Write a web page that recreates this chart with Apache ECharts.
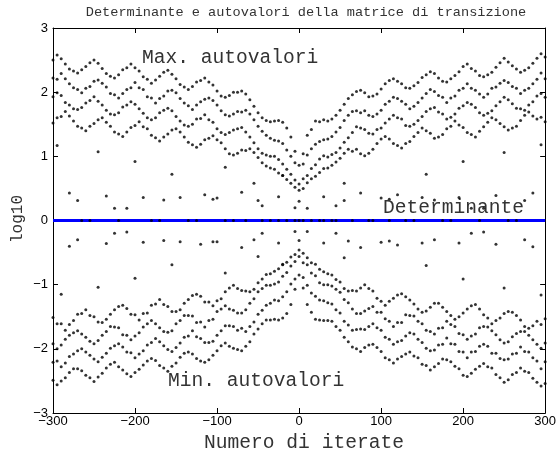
<!DOCTYPE html>
<html>
<head>
<meta charset="utf-8">
<script src="https://cdn.jsdelivr.net/npm/echarts@6/dist/echarts.min.js"></script>
<style>
html,body{margin:0;padding:0;background:#fff;}
#chart{width:559px;height:454px;}
</style>
</head>
<body>
<div id="chart"></div>
<script>
// iterate numbers sampled every 5 from -300 to 300
const X_START = -300, X_STEP = 5, X_COUNT = 121;
const xs = [];
for (let i = 0; i < X_COUNT; i++) xs.push(X_START + i * X_STEP);

// Max eigenvalue bands (log10): x = -300..0 (61 values) then x = 5..300 (60 values)
const maxBand1 = [2.50,2.58,2.52,2.44,2.36,2.33,2.30,2.35,2.40,2.46, 2.50,2.45,2.37,2.29,2.25,2.22,2.27,2.35,2.38,2.44, 2.38,2.33,2.24,2.20,2.14,2.19,2.25,2.31,2.34,2.28, 2.21,2.12,2.08,2.04,2.09,2.16,2.18,2.22,2.16,2.11, 2.02,1.94,1.92,1.95,2.00,2.00,2.02,1.97,1.88,1.78, 1.68,1.60,1.56,1.54,1.55,1.56,1.53,1.44,1.30,1.08, 0.86,
  1.04,1.33,1.42,1.55,1.54,1.57, 1.55,1.58,1.64,1.72, 1.81,1.90,1.96,2.01,2.03, 1.99,1.93,1.94,1.97,2.05, 2.13,2.18,2.21,2.17,2.13, 2.07,2.06,2.10,2.15,2.23, 2.27,2.32,2.29,2.22,2.17, 2.16,2.21,2.26,2.32,2.40, 2.44,2.37,2.33,2.26,2.24, 2.27,2.31,2.39,2.46,2.53, 2.47,2.41,2.36,2.31,2.34, 2.38,2.45,2.53,2.60,2.55];
const maxBand2 = [2.22,2.20,2.29,2.21,2.13,2.07,2.04,1.99,2.06,2.09, 2.17,2.19,2.14,2.08,1.98,1.96,1.91,1.98,2.04,2.07, 2.15,2.07,2.04,1.93,1.91,1.83,1.90,1.94,2.02,2.03, 1.99,1.90,1.83,1.79,1.73,1.80,1.85,1.89,1.91,1.87, 1.80,1.71,1.65,1.63,1.66,1.70,1.69,1.72,1.66,1.57, 1.47,1.39,1.33,1.28,1.25,1.24,1.20,1.10,1.00,0.90, 0.57,
  0.88,1.02,1.12,1.19,1.23,1.26, 1.27,1.31,1.38,1.45, 1.56,1.64,1.70,1.71,1.68, 1.71,1.64,1.62,1.66,1.72, 1.81,1.86,1.92,1.90,1.86, 1.81,1.74,1.78,1.84,1.91, 1.98,2.04,2.01,1.95,1.92, 1.84,1.91,1.94,2.03,2.06, 2.13,2.06,2.03,1.97,1.92, 1.97,2.06,2.08,2.14,2.18, 2.15,2.09,2.06,1.98,2.03, 2.06,2.13,2.20,2.30,2.21];
const maxBand3 = [1.93,1.99,1.95,1.84,1.80,1.74,1.73,1.76,1.83,1.87, 1.93,1.86,1.80,1.72,1.66,1.65,1.68,1.77,1.80,1.85, 1.81,1.74,1.67,1.60,1.57,1.60,1.68,1.72,1.75,1.71, 1.62,1.55,1.49,1.47,1.50,1.58,1.59,1.65,1.57,1.53, 1.43,1.37,1.34,1.37,1.41,1.43,1.45,1.38,1.30,1.21, 1.12,1.05,1.02,1.00,1.00,0.95,0.88,0.80,0.72,0.63, 0.47,
  0.65,0.70,0.81,0.87,0.96,1.01, 0.99,1.03,1.06,1.13, 1.22,1.29,1.37,1.46,1.44, 1.42,1.36,1.35,1.42,1.44, 1.52,1.58,1.64,1.60,1.58, 1.48,1.47,1.50,1.56,1.62, 1.70,1.74,1.76,1.69,1.66, 1.58,1.61,1.66,1.75,1.79, 1.84,1.81,1.76,1.68,1.64, 1.67,1.71,1.79,1.85,1.92, 1.88,1.82,1.75,1.74,1.72, 1.80,1.85,1.94,1.98,1.92];
const maxBand4 = [1.52,1.60,1.62,1.70,1.63,1.55,1.47,1.44,1.40,1.47, 1.51,1.57,1.60,1.53,1.47,1.38,1.35,1.31,1.38,1.45, 1.48,1.54,1.46,1.43,1.33,1.29,1.24,1.30,1.35,1.41, 1.43,1.38,1.30,1.22,1.18,1.14,1.19,1.26,1.28,1.32, 1.26,1.21,1.12,1.04,1.02,1.05,1.10,1.09,1.12,1.06, 0.98,0.90,0.85,0.82,0.80,0.74,0.70,0.64,0.58,0.52, 0.30,
  0.50,0.59,0.65,0.69,0.75,0.81, 0.82,0.86,0.91,0.97, 1.05,1.11,1.08,1.11,1.04, 1.01,1.05,1.11,1.20,1.27, 1.31,1.27,1.20,1.17,1.13, 1.20,1.23,1.31,1.37,1.44, 1.40,1.36,1.28,1.30,1.34, 1.43,1.47,1.55,1.49,1.45, 1.37,1.34,1.30,1.39,1.46, 1.53,1.60,1.57,1.51,1.46, 1.41,1.44,1.47,1.56,1.64, 1.69,1.63,1.58,1.61,1.54];

// Min eigenvalue bands (log10)
const minBand1 = [-2.49,-2.56,-2.50,-2.45,-2.37,-2.31,-2.31,-2.34,-2.41,-2.45, -2.51,-2.44,-2.38,-2.30,-2.24,-2.21,-2.28,-2.33,-2.39,-2.43, -2.37,-2.32,-2.25,-2.19,-2.15,-2.18,-2.26,-2.30,-2.35,-2.27, -2.22,-2.13,-2.07,-2.05,-2.08,-2.15,-2.19,-2.21,-2.17,-2.10, -2.03,-1.95,-1.91,-1.96,-1.99,-2.01,-2.03,-1.96,-1.89,-1.77, -1.69,-1.61,-1.55,-1.55,-1.54,-1.55,-1.52,-1.45,-1.31,-1.07, -0.85,
  -1.05,-1.31,-1.43,-1.54,-1.55,-1.56, -1.56,-1.57,-1.65,-1.71, -1.82,-1.89,-1.97,-2.00,-2.04, -1.98,-1.94,-1.93,-1.98,-2.04, -2.14,-2.17,-2.22,-2.16,-2.12, -2.08,-2.05,-2.11,-2.14,-2.24, -2.26,-2.33,-2.28,-2.23,-2.16, -2.17,-2.20,-2.27,-2.31,-2.41, -2.43,-2.38,-2.32,-2.27,-2.23, -2.28,-2.30,-2.40,-2.45,-2.52, -2.48,-2.40,-2.37,-2.30,-2.35, -2.37,-2.46,-2.52,-2.58,-2.54];
const minBand2 = [-2.21,-2.19,-2.28,-2.22,-2.12,-2.08,-2.03,-2.00,-2.05,-2.10, -2.16,-2.20,-2.13,-2.07,-1.99,-1.95,-1.92,-1.97,-2.05,-2.06, -2.14,-2.08,-2.03,-1.94,-1.90,-1.84,-1.89,-1.95,-2.01,-2.04, -1.98,-1.91,-1.82,-1.80,-1.72,-1.81,-1.84,-1.90,-1.90,-1.88, -1.79,-1.72,-1.64,-1.64,-1.65,-1.71,-1.68,-1.73,-1.65,-1.58, -1.46,-1.40,-1.32,-1.29,-1.24,-1.25,-1.19,-1.11,-0.99,-0.91, -0.56,
  -0.89,-1.01,-1.13,-1.18,-1.24,-1.25, -1.28,-1.30,-1.39,-1.44, -1.57,-1.63,-1.71,-1.70,-1.69, -1.70,-1.65,-1.61,-1.67,-1.71, -1.82,-1.85,-1.93,-1.89,-1.87, -1.80,-1.75,-1.77,-1.85,-1.90, -1.99,-2.03,-2.02,-1.94,-1.93, -1.83,-1.92,-1.93,-2.04,-2.05, -2.14,-2.05,-2.04,-1.96,-1.93, -1.96,-2.07,-2.07,-2.15,-2.17, -2.16,-2.08,-2.07,-1.97,-2.04, -2.05,-2.14,-2.19,-2.31,-2.20];
const minBand3 = [-1.92,-2.00,-1.94,-1.85,-1.79,-1.75,-1.72,-1.77,-1.82,-1.88, -1.92,-1.87,-1.79,-1.73,-1.65,-1.66,-1.67,-1.78,-1.79,-1.86, -1.80,-1.75,-1.66,-1.61,-1.56,-1.61,-1.67,-1.73,-1.74,-1.72, -1.61,-1.56,-1.48,-1.48,-1.49,-1.59,-1.58,-1.66,-1.56,-1.54, -1.42,-1.38,-1.33,-1.38,-1.40,-1.44,-1.44,-1.39,-1.29,-1.22, -1.11,-1.06,-1.01,-1.01,-0.99,-0.96,-0.87,-0.81,-0.71,-0.64, -0.46,
  -0.66,-0.69,-0.82,-0.86,-0.97,-1.00, -1.00,-1.02,-1.07,-1.12, -1.23,-1.28,-1.38,-1.45,-1.45, -1.41,-1.37,-1.34,-1.43,-1.43, -1.53,-1.57,-1.65,-1.59,-1.59, -1.47,-1.48,-1.49,-1.57,-1.61, -1.71,-1.73,-1.77,-1.68,-1.67, -1.57,-1.62,-1.65,-1.76,-1.78, -1.85,-1.80,-1.77,-1.67,-1.65, -1.66,-1.72,-1.78,-1.86,-1.91, -1.89,-1.81,-1.76,-1.73,-1.73, -1.79,-1.86,-1.93,-1.99,-1.91];
const minBand4 = [-1.51,-1.61,-1.61,-1.71,-1.62,-1.56,-1.46,-1.45,-1.39,-1.48, -1.50,-1.58,-1.59,-1.54,-1.46,-1.39,-1.34,-1.32,-1.37,-1.46, -1.47,-1.55,-1.45,-1.44,-1.32,-1.30,-1.23,-1.31,-1.34,-1.42, -1.42,-1.39,-1.29,-1.23,-1.17,-1.15,-1.18,-1.27,-1.27,-1.33, -1.25,-1.22,-1.11,-1.05,-1.01,-1.06,-1.09,-1.10,-1.11,-1.07, -0.97,-0.91,-0.84,-0.83,-0.79,-0.75,-0.69,-0.65,-0.57,-0.53, -0.31,
  -0.51,-0.58,-0.66,-0.68,-0.76,-0.80, -0.83,-0.85,-0.92,-0.96, -1.06,-1.10,-1.09,-1.10,-1.05, -1.00,-1.06,-1.10,-1.21,-1.26, -1.32,-1.26,-1.21,-1.16,-1.14, -1.19,-1.24,-1.30,-1.38,-1.43, -1.41,-1.35,-1.29,-1.29,-1.35, -1.42,-1.48,-1.54,-1.50,-1.44, -1.38,-1.33,-1.31,-1.38,-1.47, -1.52,-1.61,-1.56,-1.52,-1.45, -1.42,-1.43,-1.48,-1.55,-1.65, -1.68,-1.64,-1.57,-1.62,-1.53];

// sparse eigenvalues between the clusters and the unit circle: [iterate, log10]
const scatterUpper = [[-295,1.17],[-280,0.43],[-270,0.31],[-245,1.07],[-235,0.38],[-225,0.19],[-210,0.19],[-200,0.92],[-190,0.36],[-165,0.32],[-155,0.72],[-145,0.36],[-115,0.40],[-105,0.33],[-100,0.35],[-90,0.83],[-70,0.44],[-55,0.58],[-50,0.31],[-45,0.23],[-25,0.37],[-20,0.70],[-5,0.20],[10,0.19],[30,0.37],[45,0.23],[55,0.58],[55,0.31],[75,0.43],[100,0.35],[110,0.33],[120,0.40],[150,0.36],[155,0.72],[165,0.32],[195,0.36],[200,0.92],[210,0.19],[225,0.19],[240,0.39],[250,1.06],[275,0.31],[285,0.43],[295,1.18]];
const scatterLower = [[-290,-1.15],[-280,-0.40],[-270,-0.30],[-245,-1.04],[-235,-0.36],[-225,-0.20],[-210,-0.18],[-200,-0.90],[-190,-0.34],[-165,-0.31],[-155,-0.69],[-145,-0.33],[-120,-0.37],[-105,-0.33],[-100,-0.33],[-90,-0.82],[-70,-0.42],[-50,-0.56],[-55,-0.30],[-45,-0.20],[-25,-0.35],[-20,-0.68],[-5,-0.17],[10,-0.17],[30,-0.35],[45,-0.20],[55,-0.58],[60,-0.32],[75,-0.42],[100,-0.34],[110,-0.32],[120,-0.38],[150,-0.35],[155,-0.70],[165,-0.30],[195,-0.35],[200,-0.91],[210,-0.20],[225,-0.18],[240,-0.37],[250,-1.05],[275,-0.30],[285,-0.41],[295,-1.16]];
// iterates with eigenvalues on the unit circle (log10 = 0)
const unitCircleX = [-265,-255,-220,-180,-170,-135,-125,-90,-80,-65,-45,-35,-25,-15,-5,0,5,15,25,30,40,45,65,85,90,110,130,140,175,185,220,255,265];
const determinant = [[-300,0],[300,0]];

const xTicks = [-300,-200,-100,0,100,200,300];
const yTicks = [-3,-2,-1,0,1,2,3];

const pairs = arr => arr.slice(0, xs.length).map((v, i) => [xs[i], v]);
const dot = (data) => ({
  type: 'scatter', data: data, symbol: 'circle', symbolSize: 3,
  itemStyle: { color: '#000' }, silent: true, z: 3, clip: true
});

const mono = 'Liberation Mono, Courier New, monospace';
const sans = 'Liberation Sans, Arial, Helvetica, sans-serif';
const fmt = v => String(v).replace('-', '\u2212');

const chart = echarts.init(document.getElementById('chart'), null, { renderer: 'canvas' });
const axisCommon = {
  type: 'value',
  axisLine: { show: true, onZero: false, lineStyle: { color: '#000', width: 1 } },
  axisTick: { show: true, inside: true, length: 5, lineStyle: { color: '#000' } },
  splitLine: { show: false }
};
chart.setOption({
  animation: false,
  backgroundColor: '#fff',
  grid: { left: 53, right: 10, top: 28, bottom: 41, containLabel: false },
  xAxis: [
    Object.assign({}, axisCommon, { min: xTicks[0], max: xTicks[xTicks.length - 1], interval: 100, position: 'bottom',
      axisLabel: { color: '#000', fontFamily: sans, fontSize: 13, margin: 2, formatter: fmt } }),
    Object.assign({}, axisCommon, { min: xTicks[0], max: xTicks[xTicks.length - 1], interval: 100, position: 'top',
      axisLabel: { show: false } })
  ],
  yAxis: [
    Object.assign({}, axisCommon, { min: yTicks[0], max: yTicks[yTicks.length - 1], interval: 1, position: 'left',
      axisLabel: { color: '#000', fontFamily: sans, fontSize: 13, margin: 5, formatter: fmt } }),
    Object.assign({}, axisCommon, { min: yTicks[0], max: yTicks[yTicks.length - 1], interval: 1, position: 'right',
      axisLabel: { show: false } })
  ],
  series: [
    { type: 'line', data: determinant, symbol: 'none', silent: true, z: 1,
      lineStyle: { color: '#0000ff', width: 3 } },
    dot(pairs(maxBand1)), dot(pairs(maxBand2)), dot(pairs(maxBand3)), dot(pairs(maxBand4)),
    dot(pairs(minBand1)), dot(pairs(minBand2)), dot(pairs(minBand3)), dot(pairs(minBand4)),
    dot(scatterUpper), dot(scatterLower),
    dot(unitCircleX.map(x => [x, 0]))
  ],
  graphic: [
    { type: 'text', x: 306, y: 5, style: { text: 'Determinante e autovalori della matrice di transizione', font: '13.6px ' + mono, fill: '#333', align: 'center' } },
    { type: 'text', x: 142, y: 48, style: { text: 'Max. autovalori', font: '19.6px ' + mono, fill: '#333' } },
    { type: 'text', x: 168, y: 371, style: { text: 'Min. autovalori', font: '19.6px ' + mono, fill: '#333' } },
    { type: 'text', x: 383, y: 198, style: { text: 'Determinante', font: '19.6px ' + mono, fill: '#333' } },
    { type: 'text', x: 304, y: 433, style: { text: 'Numero di iterate', font: '19.6px ' + mono, fill: '#333', align: 'center' } },
    { type: 'text', x: 18, y: 219, rotation: Math.PI / 2, style: { text: 'log10', font: '16px ' + mono, fill: '#333', align: 'center', verticalAlign: 'middle' } }
  ]
});
</script>
</body>
</html>
